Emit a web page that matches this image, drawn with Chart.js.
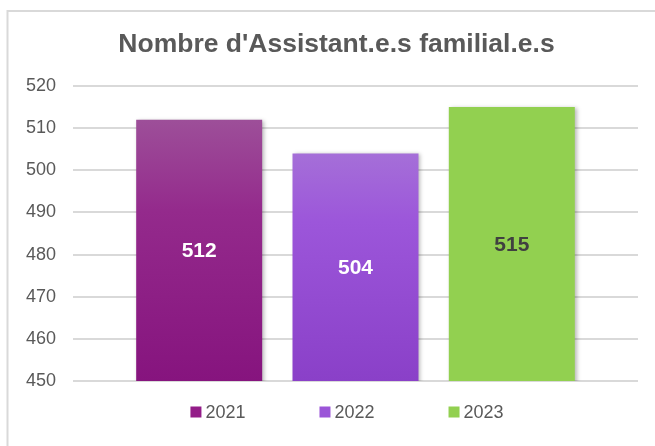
<!DOCTYPE html>
<html>
<head>
<meta charset="utf-8">
<script src="https://cdn.jsdelivr.net/npm/chart.js@4/dist/chart.umd.min.js"></script>
<style>
  html, body { margin: 0; padding: 0; background: #fff; }
  #wrap { width: 655px; height: 446px; }
</style>
</head>
<body>
<div id="wrap"><canvas id="c"></canvas></div>
<script>
var years = ['2021', '2022', '2023'];
var counts = [512, 504, 515];
var yTicks = { min: 450, max: 520, step: 10 };
var chartTitle = "Nombre d'Assistant.e.s familial.e.s";

// gradient stops per bar (top -> bottom)
var barStops = [
    [[0, '#9d4f99'], [0.35, '#942a8c'], [1, '#86147e']],
    [[0, '#a56fd8'], [0.3, '#9c56da'], [1, '#8a40c8']],
    [[0, '#92d050'], [1, '#92d050']]
];
var legendColors = ['#931d88', '#9b55d8', '#92d050'];
var labelColors = ['#ffffff', '#ffffff', '#404040'];
var textGray = '#595959';
var fontFamily = '"Liberation Sans", Arial, sans-serif';

function barGradient(i) {
    return function (context) {
        var chart = context.chart;
        var area = chart.chartArea;
        if (!area) {
            return barStops[i][0][1];
        }
        var top = chart.scales.y.getPixelForValue(counts[i]);
        var g = chart.ctx.createLinearGradient(0, top, 0, area.bottom);
        barStops[i].forEach(function (s) { g.addColorStop(s[0], s[1]); });
        return g;
    };
}

var frame = {
    id: 'frame',
    beforeDraw: function (chart) {
        var ctx = chart.ctx;
        ctx.save();
        ctx.strokeStyle = '#d9d9d9';
        ctx.lineWidth = 2;
        ctx.strokeRect(7.5, 11, 900, 900);
        ctx.restore();
    }
};

var shadow = {
    id: 'barShadow',
    beforeDatasetsDraw: function (chart) {
        var ctx = chart.ctx;
        ctx.save();
        ctx.shadowColor = 'rgba(0,0,0,0.28)';
        ctx.shadowBlur = 4;
        ctx.shadowOffsetX = 2;
        ctx.shadowOffsetY = 1;
    },
    afterDatasetsDraw: function (chart) {
        chart.ctx.restore();
    }
};

// title, value labels in the middle of each bar, legend under the plot
var overlay = {
    id: 'overlay',
    afterDraw: function (chart) {
        var ctx = chart.ctx;
        var yScale = chart.scales.y;
        ctx.save();
        ctx.textAlign = 'center';
        ctx.textBaseline = 'alphabetic';
        ctx.fillStyle = textGray;
        ctx.font = 'bold 26.5px ' + fontFamily;
        ctx.fillText(chartTitle, 336.5, 52);

        // bar base sits below the axis min, so use the plot bottom
        ctx.font = 'bold 21px ' + fontFamily;
        ctx.textBaseline = 'middle';
        chart.data.datasets.forEach(function (ds, i) {
            var bar = chart.getDatasetMeta(i).data[0];
            var top = yScale.getPixelForValue(ds.data[0]);
            var mid = (top + chart.chartArea.bottom) / 2;
            ctx.fillStyle = labelColors[i];
            ctx.fillText(String(ds.data[0]), bar.x, mid + 1);
        });

        var box = 11, gap = 4, spacing = 74;
        ctx.font = '18px ' + fontFamily;
        ctx.textAlign = 'left';
        var items = chart.data.datasets.map(function (ds) {
            return { text: ds.label, w: box + gap + ctx.measureText(ds.label).width };
        });
        var total = items.reduce(function (a, it) { return a + it.w; }, 0) + spacing * (items.length - 1);
        var x = 347 - total / 2;
        var y = 413;
        items.forEach(function (it, i) {
            ctx.fillStyle = legendColors[i];
            ctx.fillRect(x, y - box / 2 - 1, box, box);
            ctx.fillStyle = textGray;
            ctx.fillText(it.text, x + box + gap, y);
            x += it.w + spacing;
        });
        ctx.restore();
    }
};

new Chart(document.getElementById('c'), {
    type: 'bar',
    data: {
        labels: [''],
        datasets: years.map(function (y, i) {
            return {
                label: y,
                data: [counts[i]],
                backgroundColor: barGradient(i),
                borderWidth: 0,
                categoryPercentage: 0.83,
                barPercentage: 0.806
            };
        })
    },
    options: {
        responsive: true,
        maintainAspectRatio: false,
        animation: false,
        layout: { padding: { top: 86, right: 17, bottom: 65, left: 0 } },
        plugins: {
            legend: { display: false },
            tooltip: { enabled: false },
            title: { display: false }
        },
        scales: {
            x: { display: false },
            y: {
                min: yTicks.min,
                max: yTicks.max,
                afterFit: function (scale) { scale.width = 73; },
                ticks: {
                    stepSize: yTicks.step,
                    padding: 17,
                    color: textGray,
                    font: { family: fontFamily, size: 18 }
                },
                grid: { color: '#d9d9d9', lineWidth: 2, drawTicks: false },
                border: { display: false }
            }
        }
    },
    plugins: [frame, shadow, overlay]
});
</script>
</body>
</html>
